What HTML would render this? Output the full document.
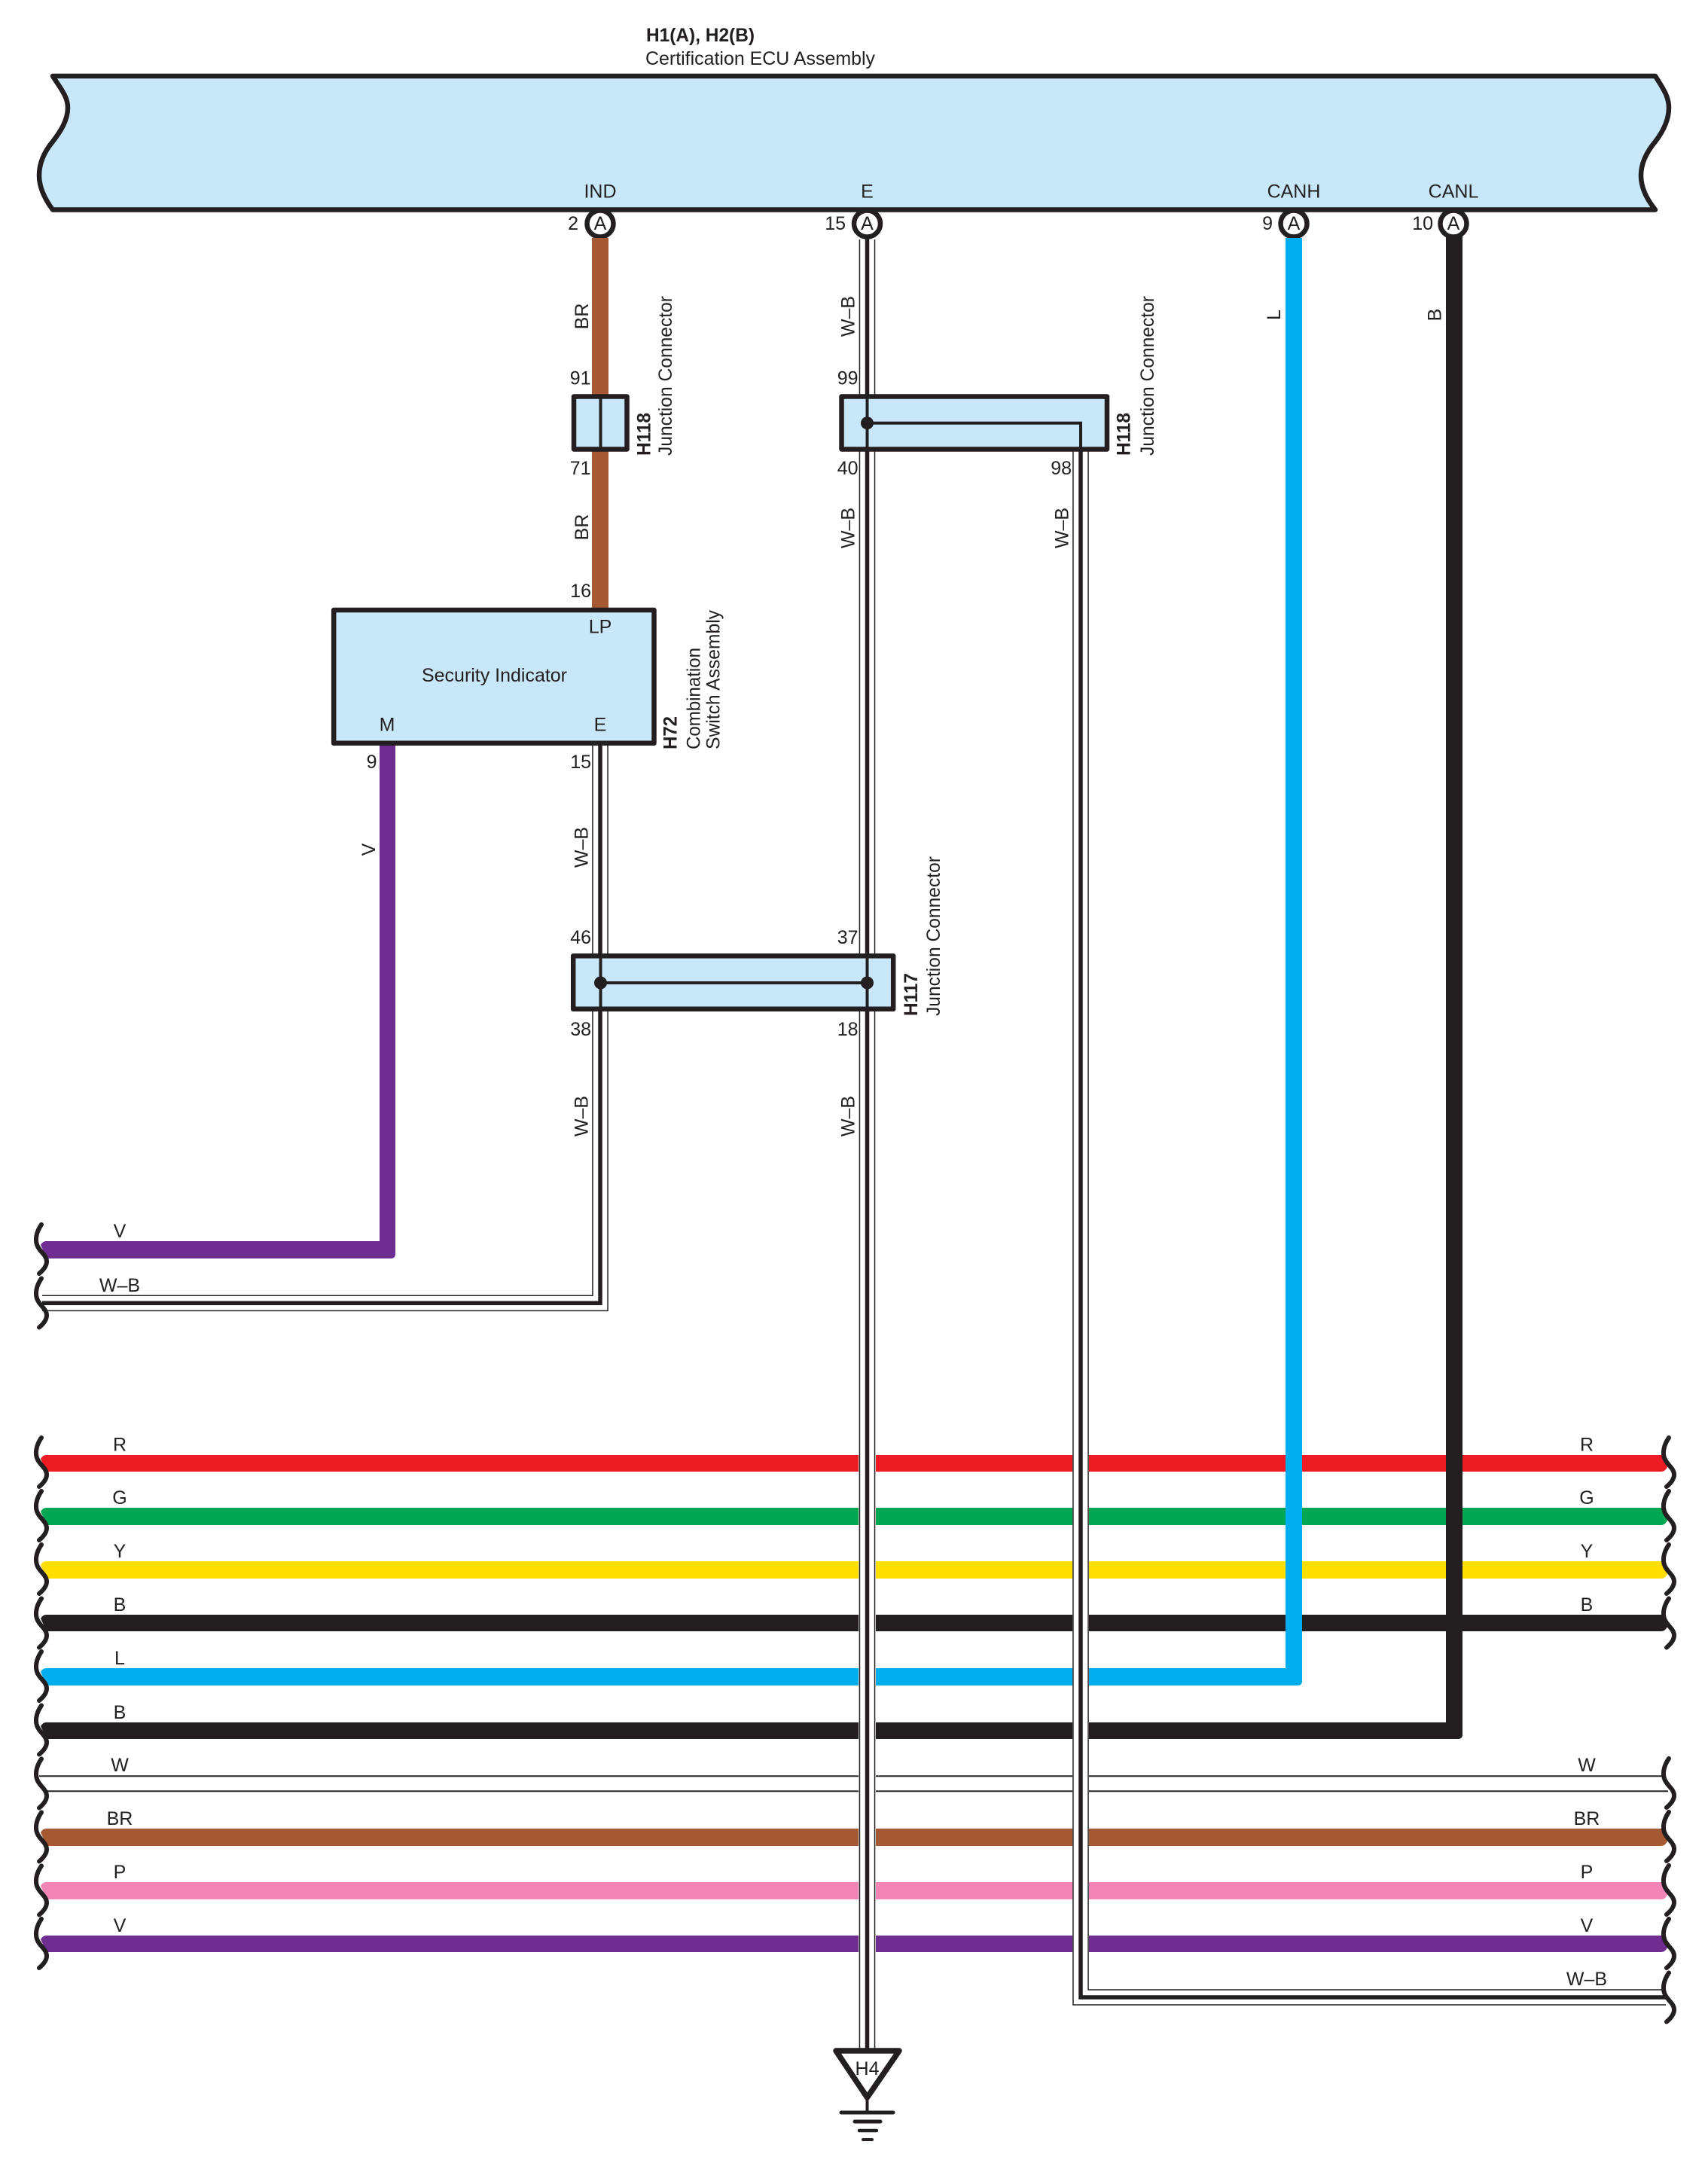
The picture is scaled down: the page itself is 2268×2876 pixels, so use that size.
<!DOCTYPE html>
<html>
<head>
<meta charset="utf-8">
<title>Wiring diagram</title>
<style>
html,body{margin:0;padding:0;background:#fff;}
svg{display:block;}
text{font-family:"Liberation Sans",Arial,sans-serif;font-size:25px;fill:#231f20;}
.c{text-anchor:middle;}
.e{text-anchor:end;}
.b{font-weight:bold;}
.sq{fill:none;stroke:#231f20;stroke-width:6;stroke-linecap:round;}
.box{fill:#c8e8fa;stroke:#231f20;stroke-width:6.5;stroke-linejoin:round;}
.ln{stroke:#231f20;stroke-width:4;fill:none;}
.o{fill:none;stroke:#231f20;stroke-width:21.6;stroke-linejoin:miter;}
.w{fill:none;stroke:#fff;stroke-width:18.6;stroke-linejoin:miter;}
.m{fill:none;stroke:#231f20;stroke-width:5.5;stroke-linejoin:miter;}
</style>
</head>
<body>
<svg xmlns="http://www.w3.org/2000/svg" xmlns:xlink="http://www.w3.org/1999/xlink" width="2268" height="2876" viewBox="0 0 2268 2876">
<defs>
<path id="s" class="sq" d="M55,-33 C48,-23 46,-12 50,-4 C54,4 62,8 62,16 C62,22 58,27 52,32"/>
</defs>
<rect width="2268" height="2876" fill="#fff"/>

<!-- ECU body -->
<path d="M70,101 H2198 C2208,117 2216,128 2216,143 C2216,160 2208,175 2198,188 C2188,200 2179,215 2179,233 C2179,250 2187,265 2198,278.5 H70 C60,265 52,250 52,233 C52,215 60,200 70,188 C80,175 90,160 90,143 C90,128 80,117 70,101 Z" fill="#c8e8fa" stroke="#231f20" stroke-width="6.5" stroke-linejoin="round"/>
<g fill="#fff" stroke="#231f20" stroke-width="6.5">
<circle cx="797" cy="297" r="17.5"/>
<circle cx="1151.5" cy="297" r="17.5"/>
<circle cx="1718" cy="297" r="17.5"/>
<circle cx="1930" cy="297" r="17.5"/>
</g>

<!-- horizontal wires -->
<path fill="#ed1c24" d="M61,1932 H2207 L2214,1948 Q2211,1954 2206,1954 H62 L54,1937 Q57,1932 61,1932 Z"/>
<path fill="#00a651" d="M61,2002 H2207 L2214,2019 Q2211,2025 2206,2025 H62 L54,2007 Q57,2002 61,2002 Z"/>
<path fill="#ffde00" d="M61,2073 H2207 L2214,2090 Q2211,2096 2206,2096 H62 L54,2078 Q57,2073 61,2073 Z"/>
<path fill="#231f20" d="M61,2144 H2207 L2214,2160 Q2211,2166 2206,2166 H62 L54,2149 Q57,2144 61,2144 Z"/>
<path fill="#00aeef" d="M61,2215 H1715 V2238 H62 L54,2220 Q57,2215 61,2215 Z"/>
<path fill="#231f20" d="M61,2287 H1930 V2309 H62 L54,2292 Q57,2287 61,2287 Z"/>
<rect x="52" y="2357.3" width="2156" height="2" fill="#231f20"/>
<rect x="62" y="2377.3" width="2153" height="2" fill="#231f20"/>
<path fill="#a55a34" d="M61,2428 H2207 L2214,2445 Q2211,2451 2206,2451 H62 L54,2433 Q57,2428 61,2428 Z"/>
<path fill="#f285b5" d="M61,2499 H2207 L2214,2516 Q2211,2522 2206,2522 H62 L54,2504 Q57,2499 61,2499 Z"/>
<path fill="#6f2c91" d="M61,2570 H2207 L2214,2586 Q2211,2592 2206,2592 H62 L54,2575 Q57,2570 61,2570 Z"/>
<!-- gaps -->
<rect x="1140" y="1925" width="23" height="675" fill="#fff"/>
<rect x="1424" y="1925" width="22" height="675" fill="#fff"/>

<!-- vertical coloured wires -->
<rect x="786" y="316" width="22" height="492" fill="#a55a34"/>
<path d="M1707,316 H1729 V2232 Q1729,2238 1723,2238 H1707 Z" fill="#00aeef"/>
<path d="M1920,314 H1942 V2303 Q1942,2309 1936,2309 H1920 Z" fill="#231f20"/>
<path d="M504,985 H525 V1665 Q525,1671 519,1671 H62 L54,1653 Q57,1648 61,1648 H504 Z" fill="#6f2c91"/>

<!-- W-B double wires -->
<path class="o" d="M1151.5,318 V2722"/><path class="w" d="M1151.5,318 V2722"/><path class="m" d="M1151.5,315 V2722"/>
<path class="o" d="M1435,595 V2652 H2212"/><path class="w" d="M1435,595 V2652 H2212"/><path class="m" d="M1435,595 V2652 H2212"/>
<path class="o" d="M797,985 V1730.3 H56"/><path class="w" d="M797,985 V1730.3 H50"/><path class="m" d="M797,985 V1730.3 H56"/>
<rect x="40" y="1715" width="12" height="30" fill="#fff"/>

<!-- H118 small -->
<rect class="box" x="762" y="526.5" width="70.5" height="70"/>
<path class="ln" d="M797.5,526 V597"/>
<!-- H118 large -->
<rect class="box" x="1117.5" y="526.5" width="352.5" height="70"/>
<path class="ln" d="M1151.5,526 V597 M1151.5,561.7 H1435 V597"/>
<circle cx="1151.5" cy="561.7" r="8.5" fill="#231f20"/>
<!-- H117 -->
<rect class="box" x="761.2" y="1269.2" width="425" height="70.6"/>
<path class="ln" d="M797.5,1269 V1340 M1151.5,1269 V1340 M797.5,1305 H1151.5"/>
<circle cx="797.5" cy="1305" r="8.5" fill="#231f20"/>
<circle cx="1151.5" cy="1305" r="8.5" fill="#231f20"/>
<!-- H72 -->
<rect class="box" x="443.2" y="810" width="425.3" height="176.8"/>

<!-- ground -->
<path d="M1110,2723 H1194 L1151.5,2785 Z" fill="#fff" stroke="#231f20" stroke-width="7.5" stroke-linejoin="round"/>
<path class="ln" d="M1151.5,2785 V2805"/>
<g stroke="#231f20" stroke-linecap="round" fill="none">
<path stroke-width="5" d="M1117,2805 H1186"/>
<path stroke-width="5" d="M1135,2817 H1169"/>
<path stroke-width="4.5" d="M1141,2829 H1164"/>
<path stroke-width="4" d="M1146,2841 H1158"/>
</g>

<!-- left squiggles -->
<use xlink:href="#s" href="#s" y="1659"/>
<use xlink:href="#s" href="#s" y="1730.5"/>
<use xlink:href="#s" href="#s" y="1942"/>
<use xlink:href="#s" href="#s" y="2013"/>
<use xlink:href="#s" href="#s" y="2084"/>
<use xlink:href="#s" href="#s" y="2155.5"/>
<use xlink:href="#s" href="#s" y="2226"/>
<use xlink:href="#s" href="#s" y="2297.5"/>
<use xlink:href="#s" href="#s" y="2368.5"/>
<use xlink:href="#s" href="#s" y="2439.5"/>
<use xlink:href="#s" href="#s" y="2510.5"/>
<use xlink:href="#s" href="#s" y="2581"/>
<!-- right squiggles -->
<use xlink:href="#s" href="#s" x="2161" y="1942"/>
<use xlink:href="#s" href="#s" x="2161" y="2013"/>
<use xlink:href="#s" href="#s" x="2161" y="2084"/>
<use xlink:href="#s" href="#s" x="2161" y="2155.5"/>
<use xlink:href="#s" href="#s" x="2161" y="2368"/>
<use xlink:href="#s" href="#s" x="2161" y="2439"/>
<use xlink:href="#s" href="#s" x="2161" y="2510"/>
<use xlink:href="#s" href="#s" x="2161" y="2581"/>
<use xlink:href="#s" href="#s" x="2161" y="2652.5"/>

<!-- titles -->
<text class="b" x="858" y="55" textLength="144" lengthAdjust="spacingAndGlyphs">H1(A), H2(B)</text>
<text x="857" y="86" textLength="305" lengthAdjust="spacingAndGlyphs">Certification ECU Assembly</text>
<text class="c" x="797" y="262.5">IND</text>
<text class="c" x="1151.5" y="262.5">E</text>
<text class="c" x="1718" y="262.5">CANH</text>
<text class="c" x="1930" y="262.5">CANL</text>
<text class="c" x="797" y="305">A</text>
<text class="c" x="1151.5" y="305">A</text>
<text class="c" x="1718" y="305">A</text>
<text class="c" x="1930" y="305">A</text>
<text class="e" x="768" y="305">2</text>
<text class="e" x="1123" y="305">15</text>
<text class="e" x="1690" y="305">9</text>
<text class="e" x="1903" y="305">10</text>

<!-- pin numbers -->
<text class="e" x="784.5" y="510.5">91</text>
<text class="e" x="784.5" y="630">71</text>
<text class="e" x="1139.5" y="510.5">99</text>
<text class="e" x="1139.5" y="630">40</text>
<text class="e" x="1423" y="630">98</text>
<text class="e" x="785" y="793">16</text>
<text class="e" x="500.5" y="1020">9</text>
<text class="e" x="785" y="1020">15</text>
<text class="e" x="785" y="1253">46</text>
<text class="e" x="1139.5" y="1253">37</text>
<text class="e" x="785" y="1375">38</text>
<text class="e" x="1139.5" y="1375">18</text>

<!-- box labels -->
<text class="c" x="797" y="840.5">LP</text>
<text x="560" y="905" textLength="193" lengthAdjust="spacingAndGlyphs">Security Indicator</text>
<text class="c" x="514" y="970.5">M</text>
<text class="c" x="797" y="970.5">E</text>

<!-- vertical wire labels -->
<text class="c" transform="translate(781,420) rotate(-90)">BR</text>
<text class="c" transform="translate(781,700) rotate(-90)">BR</text>
<text class="c" transform="translate(1134.5,420) rotate(-90)">W–B</text>
<text class="c" transform="translate(1134.5,701) rotate(-90)">W–B</text>
<text class="c" transform="translate(1418.5,701) rotate(-90)">W–B</text>
<text class="c" transform="translate(1700,418) rotate(-90)">L</text>
<text class="c" transform="translate(1913.5,418) rotate(-90)">B</text>
<text class="c" transform="translate(498,1128) rotate(-90)">V</text>
<text class="c" transform="translate(780.5,1125) rotate(-90)">W–B</text>
<text class="c" transform="translate(780.5,1482) rotate(-90)">W–B</text>
<text class="c" transform="translate(1134.5,1482) rotate(-90)">W–B</text>

<!-- vertical connector labels -->
<text class="b" transform="translate(863.5,605) rotate(-90)" textLength="57" lengthAdjust="spacingAndGlyphs">H118</text>
<text transform="translate(892,605) rotate(-90)" textLength="212" lengthAdjust="spacingAndGlyphs">Junction Connector</text>
<text class="b" transform="translate(1500.5,605) rotate(-90)" textLength="57" lengthAdjust="spacingAndGlyphs">H118</text>
<text transform="translate(1532,605) rotate(-90)" textLength="212" lengthAdjust="spacingAndGlyphs">Junction Connector</text>
<text class="b" transform="translate(1218,1349) rotate(-90)" textLength="57" lengthAdjust="spacingAndGlyphs">H117</text>
<text transform="translate(1248,1349) rotate(-90)" textLength="212" lengthAdjust="spacingAndGlyphs">Junction Connector</text>
<text class="b" transform="translate(898.5,995) rotate(-90)" textLength="44" lengthAdjust="spacingAndGlyphs">H72</text>
<text transform="translate(929.5,995) rotate(-90)" textLength="135" lengthAdjust="spacingAndGlyphs">Combination</text>
<text transform="translate(955.5,995) rotate(-90)" textLength="185" lengthAdjust="spacingAndGlyphs">Switch Assembly</text>

<!-- left wire labels -->
<text class="c" x="159" y="1643">V</text>
<text class="c" x="159" y="1715">W–B</text>
<text class="c" x="159" y="1926.5">R</text>
<text class="c" x="159" y="1997">G</text>
<text class="c" x="159" y="2068">Y</text>
<text class="c" x="159" y="2139">B</text>
<text class="c" x="159" y="2210">L</text>
<text class="c" x="159" y="2282">B</text>
<text class="c" x="159" y="2352">W</text>
<text class="c" x="159" y="2423">BR</text>
<text class="c" x="159" y="2494">P</text>
<text class="c" x="159" y="2565">V</text>
<!-- right wire labels -->
<text class="c" x="2107" y="1926.5">R</text>
<text class="c" x="2107" y="1997">G</text>
<text class="c" x="2107" y="2068">Y</text>
<text class="c" x="2107" y="2139">B</text>
<text class="c" x="2107" y="2352">W</text>
<text class="c" x="2107" y="2423">BR</text>
<text class="c" x="2107" y="2494">P</text>
<text class="c" x="2107" y="2565">V</text>
<text class="c" x="2107" y="2636">W–B</text>

<text class="c" x="1151.5" y="2755">H4</text>
</svg>
</body>
</html>
